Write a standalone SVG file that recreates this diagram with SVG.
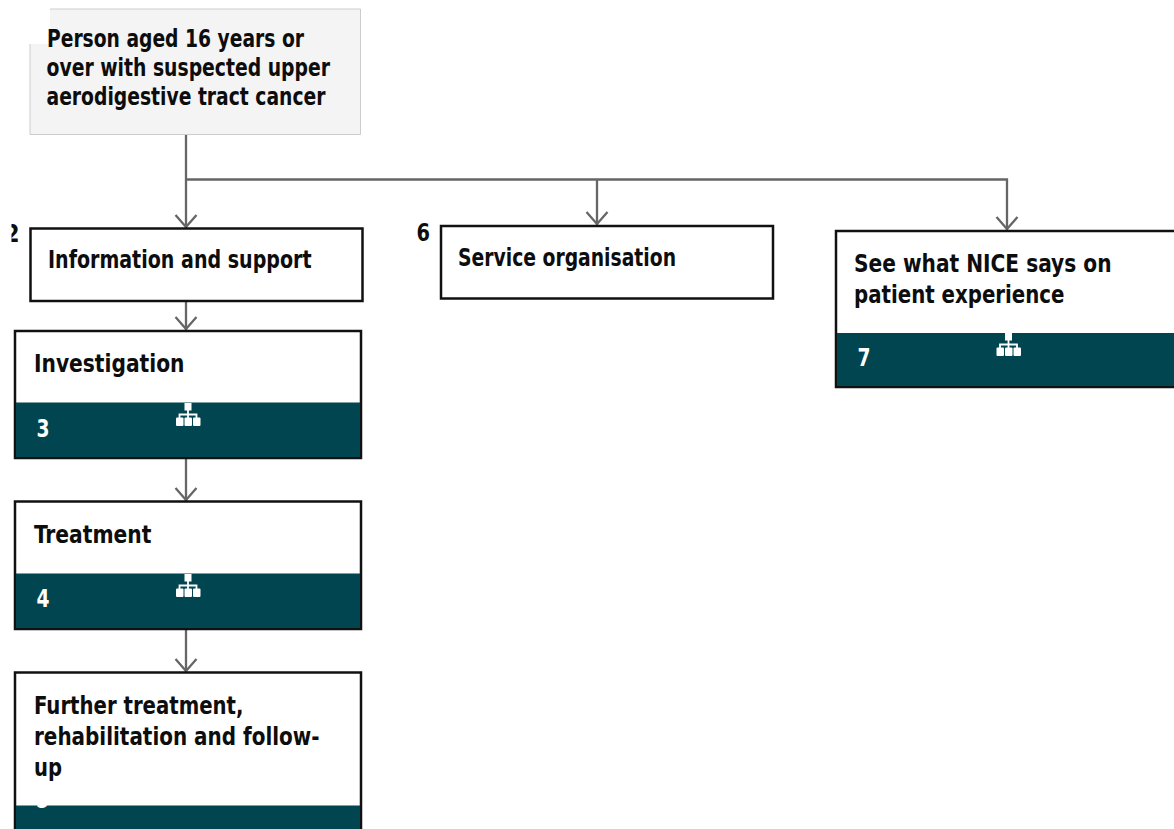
<svg xmlns="http://www.w3.org/2000/svg" width="1174" height="829" viewBox="0 0 1174 829">
<style>
.t{font-family:"DejaVu Sans",Tahoma,sans-serif;font-stretch:condensed;font-weight:700;font-size:24.5px;fill:#0d0d0d}
.n{fill:#fff}
.box{fill:#fff;stroke:#111;stroke-width:2.500}
.teal{fill:#00454f}
.c{fill:none;stroke:#666;stroke-width:2.300}
.ic{fill:#fff}
.il{fill:none;stroke:#fff;stroke-width:1.800}
</style>
<defs>
<g id="icon"><rect class="ic" x="-3.500" y="0" width="7" height="7.500"/><path class="il" d="M0 7V11.500M-8.500 15V11.500H8.500V15M0 11.500V15"/><rect class="ic" x="-12" y="14.500" width="7.500" height="8.500" rx="1"/><rect class="ic" x="-3.500" y="14.500" width="7.500" height="8.500" rx="1"/><rect class="ic" x="5" y="14.500" width="7.500" height="8.500" rx="1"/></g>
<clipPath id="c2"><rect x="11.500" y="215" width="20" height="40"/></clipPath>
<clipPath id="c5"><rect x="20" y="805" width="50" height="10"/></clipPath>
</defs>
<g id="connectors">
<path class="c" d="M186 134V228"/>
<path class="c" d="M186 179.500H1007V230M597 179.500V225M186 301V330M186 458V501M186 629V672"/>
<path class="c" d="M175.500 215L186 227L196.500 215M586.500 212L597 224L607.500 212M996.500 217L1007 229L1017.500 217M175.500 317L186 329L196.500 317M175.500 488L186 500L196.500 488M175.500 659L186 671L196.500 659"/>
</g>
<g id="node-1">
<path d="M50 9H360.500V134.500H30V44H50Z" fill="#f4f4f4"/>
<path d="M50 9H360.500V134.500H30V44" fill="none" stroke="#ccc" stroke-width="1"/>
<text class="t" x="47" y="47" textLength="257" lengthAdjust="spacingAndGlyphs">Person aged 16 years or</text>
<text class="t" x="46.500" y="76" textLength="283.500" lengthAdjust="spacingAndGlyphs">over with suspected upper</text>
<text class="t" x="46.500" y="105" textLength="279" lengthAdjust="spacingAndGlyphs">aerodigestive tract cancer</text>
</g>
<g id="node-2">
<text class="t" x="5" y="242" clip-path="url(#c2)" textLength="14.500" lengthAdjust="spacingAndGlyphs">2</text>
<rect class="box" x="30.500" y="228.500" width="332" height="72.500"/>
<text class="t" x="48" y="267.500" textLength="263.500" lengthAdjust="spacingAndGlyphs">Information and support</text>
</g>
<g id="node-3">
<rect class="box" x="15" y="331" width="346" height="127"/>
<rect class="teal" x="16" y="402.500" width="344" height="54.500"/>
<text class="t" x="34" y="372" textLength="150.500" lengthAdjust="spacingAndGlyphs">Investigation</text>
<text class="t n" x="36.500" y="437" textLength="13" lengthAdjust="spacingAndGlyphs">3</text>
<use href="#icon" x="188" y="403"/>
</g>
<g id="node-4">
<rect class="box" x="15" y="501.500" width="346" height="127.500"/>
<rect class="teal" x="16" y="573.500" width="344" height="54.500"/>
<text class="t" x="34" y="543" textLength="117.500" lengthAdjust="spacingAndGlyphs">Treatment</text>
<text class="t n" x="36.500" y="607" textLength="13" lengthAdjust="spacingAndGlyphs">4</text>
<use href="#icon" x="188" y="574"/>
</g>
<g id="node-5">
<rect class="box" x="15" y="672.500" width="346" height="160"/>
<rect class="teal" x="16" y="805.500" width="344" height="27"/>
<text class="t n" x="36" y="808" clip-path="url(#c5)" textLength="13" lengthAdjust="spacingAndGlyphs">5</text>
<text class="t" x="34" y="714" textLength="209.500" lengthAdjust="spacingAndGlyphs">Further treatment,</text>
<text class="t" x="34" y="745" textLength="285.500" lengthAdjust="spacingAndGlyphs">rehabilitation and follow-</text>
<text class="t" x="34" y="776" textLength="28" lengthAdjust="spacingAndGlyphs">up</text>
</g>
<g id="node-6">
<text class="t" x="416.500" y="241" textLength="13.500" lengthAdjust="spacingAndGlyphs">6</text>
<rect class="box" x="441" y="226" width="332" height="72.500"/>
<text class="t" x="458" y="265.500" textLength="218" lengthAdjust="spacingAndGlyphs">Service organisation</text>
</g>
<g id="node-7">
<rect class="box" x="836" y="231" width="345" height="156"/>
<rect class="teal" x="837" y="333" width="344" height="53"/>
<text class="t" x="854" y="272" textLength="257.500" lengthAdjust="spacingAndGlyphs">See what NICE says on</text>
<text class="t" x="854" y="303" textLength="210.500" lengthAdjust="spacingAndGlyphs">patient experience</text>
<text class="t n" x="857.500" y="365.500" textLength="13" lengthAdjust="spacingAndGlyphs">7</text>
<use href="#icon" x="1008.500" y="333"/>
</g>
</svg>
